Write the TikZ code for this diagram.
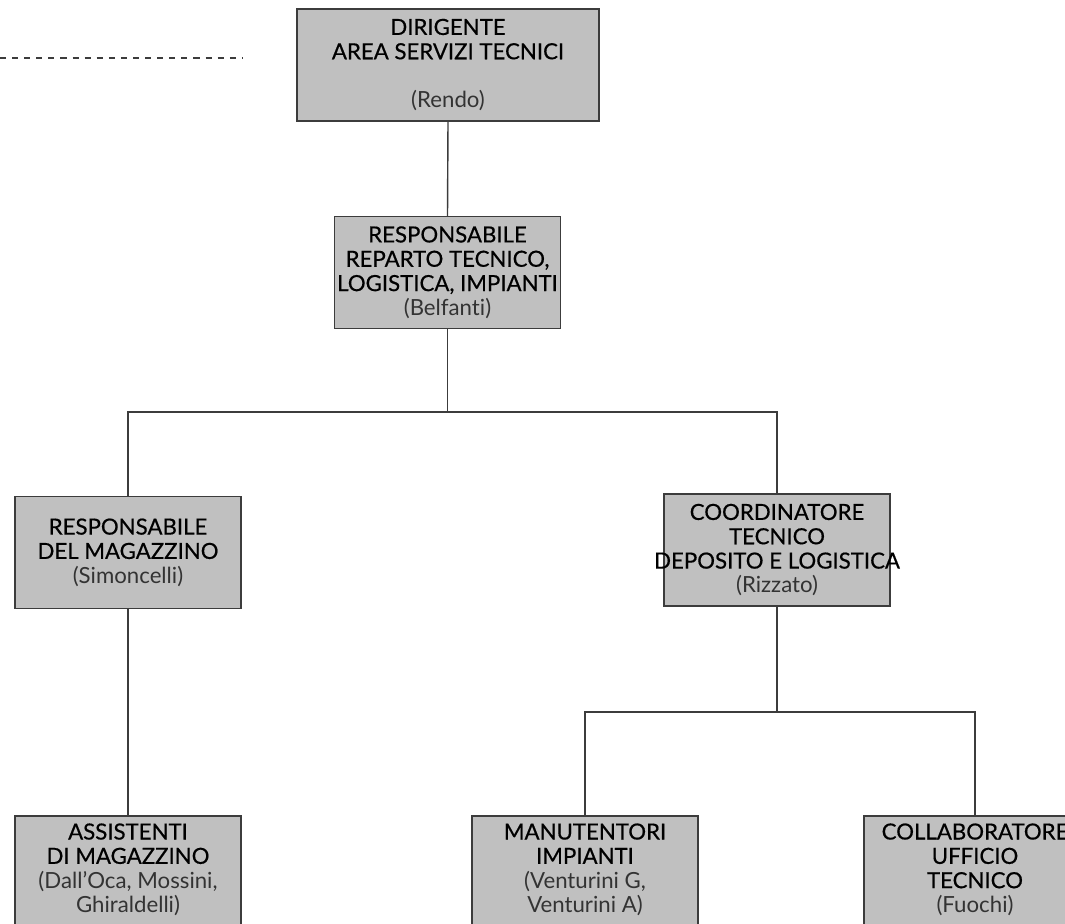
\documentclass[tikz,border=0pt]{standalone}
\usepackage{fontspec}
\setmainfont{Lato}[Ligatures=CommonOff]
\newfontfamily\headfont{Lato}[Ligatures=CommonOff,FakeBold=0.5]
\usepackage{xcolor}
\definecolor{boxgray}{HTML}{C0C0C0}
\definecolor{edgegray}{HTML}{3C3C3C}
\definecolor{namegray}{HTML}{333333}

\begin{document}
\begin{tikzpicture}[x=0.025cm,y=-0.025cm,
    unit/.style={draw=edgegray,line width=0.9pt,fill=boxgray,
      minimum width=5.65cm,minimum height=2.8cm,inner sep=0pt},
    txt/.style={align=center,inner sep=0pt,
      font=\fontsize{15.8pt}{17.3pt}\selectfont},
    link/.style={draw=edgegray,line width=1pt}]
  \useasboundingbox (0,0) rectangle (1065,924);
  % dotted reference line on the left
  \coordinate (dashA) at (0,58);
  \coordinate (dashB) at (242,58);
  \draw[dashed,dash pattern=on 4.3pt off 4.3pt,line width=1.2pt,edgegray] (dashA) -- (dashB);

  % boxes
  \node[unit,minimum width=7.55cm] (dir) at (448,65) {};
  \node[txt] at (dir) {\headfont DIRIGENTE\\\headfont AREA SERVIZI TECNICI\\[17.3pt]\textcolor{namegray}{(Rendo)}};

  \node[unit] (resp) at (447.5,272.5) {};
  \node[txt] at (resp) {\headfont RESPONSABILE\\\headfont REPARTO TECNICO,\\\headfont LOGISTICA, IMPIANTI\\\textcolor{namegray}{(Belfanti)}};

  \node[unit] (mag) at (128,552.5) {};
  \node[txt] at (mag) {\headfont RESPONSABILE\\\headfont DEL MAGAZZINO\\\textcolor{namegray}{(Simoncelli)}};

  \node[unit] (coord) at (777,550) {};
  \node[txt] at (coord) {\headfont COORDINATORE\\\headfont TECNICO\\\headfont DEPOSITO E LOGISTICA\\\textcolor{namegray}{(Rizzato)}};

  \node[unit] (ass) at (128,872) {};
  \node[txt] at ([yshift=0.06cm]ass) {\headfont ASSISTENTI\\\headfont DI MAGAZZINO\\\textcolor{namegray}{(Dall'Oca, Mossini,}\\\textcolor{namegray}{Ghiraldelli)}};

  \node[unit] (mant) at (585,872) {};
  \node[txt] at ([yshift=0.06cm]mant) {\headfont MANUTENTORI\\\headfont IMPIANTI\\\textcolor{namegray}{(Venturini G,}\\\textcolor{namegray}{Venturini A)}};

  \node[unit] (coll) at (977,872) {};
  \node[txt] at ([yshift=0.06cm,xshift=-0.05cm]coll) {\headfont COLLABORATORE\\\headfont UFFICIO\\\headfont TECNICO\\\textcolor{namegray}{(Fuochi)}};

  % connectors
  \coordinate (splitA) at (447.5,412);
  \coordinate (splitB) at (777,712);
  \draw[link] (dir.south) -- (resp.north);
  \draw[link] (resp.south) -- (splitA);
  \draw[link] (mag.north) |- (splitA) -| (coord.north);
  \draw[link] (mag.south) -- (ass.north);
  \draw[link] (coord.south) -- (splitB);
  \draw[link] (mant.north) |- (splitB) -| ([xshift=-0.05cm]coll.north);
\end{tikzpicture}
\end{document}
